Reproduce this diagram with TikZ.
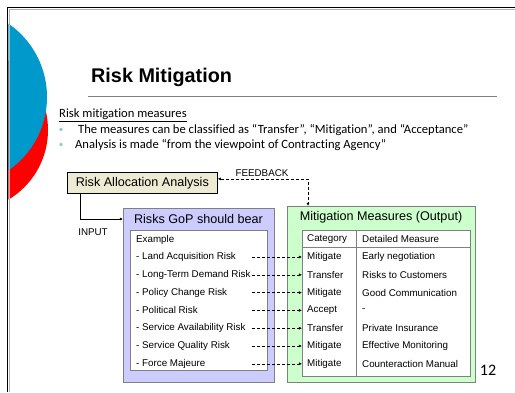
\documentclass[tikz,border=0pt]{standalone}
\usepackage{fontspec}
\setmainfont{Liberation Sans}
\newfontfamily\slidefont[Ligatures=NoCommon]{Carlito}
\usetikzlibrary{arrows.meta}

\definecolor{circblue}{RGB}{0,153,204}
\definecolor{beige}{RGB}{238,235,212}
\definecolor{lavender}{RGB}{204,204,255}
\definecolor{mint}{RGB}{204,255,204}
\definecolor{bullteal}{RGB}{140,200,214}

\newcommand{\mmhead}{\fontsize{12.6}{15}\selectfont}
\newcommand{\mmtext}{\fontsize{9.8}{12}\selectfont}

\tikzset{
  box/.style={draw=gray, line width=0.7pt, inner sep=0pt, anchor=north west},
  txt/.style={inner sep=0pt, anchor=west, font=\mmtext},
  dasharrow/.style={densely dashed, line width=0.5pt, -{Latex[length=3.2pt,width=3pt]}}
}

\begin{document}
\begin{tikzpicture}[x=1pt,y=-1pt]
    \useasboundingbox (0,0) rectangle (515,392);

    % Draw the two circles at the left edge
    \begin{scope}
        \clip (8.3,0) rectangle (515,392);
        \fill[red] (-33,130) circle (81);
        \fill[circblue] (-42,97) circle (89);
    \end{scope}

    % Draw slide frame
    \draw[gray!60, line width=0.6pt] (9.6,392) -- (9.6,9.6) -- (515,9.6);
    \draw[line width=1.6pt] (7.5,392) -- (7.5,7.5) -- (515,7.5);

    % Title and rule
    \node[inner sep=0pt, anchor=west, font=\fontsize{19.8}{24}\selectfont\bfseries] (title) at (91,77) {Risk Mitigation};
    \draw[gray, line width=1pt] (88,96) -- (497,96);

    % Bullet text
    \node[inner sep=0pt, anchor=west, font=\slidefont\fontsize{12.6}{15}\selectfont] (head) at (59,115) {\underline{Risk mitigation measures}};
    \node[inner sep=0pt, text=bullteal, font=\slidefont\fontsize{9}{10}\selectfont] (b1) at (61,130) {•};
    \node[inner sep=0pt, text=bullteal, font=\slidefont\fontsize{9}{10}\selectfont] (b2) at (61,145) {•};
    \node[inner sep=0pt, anchor=west, font=\slidefont\fontsize{12.6}{15}\selectfont] (l1) at (78,130) {The measures can be classified as “Transfer”, “Mitigation”, and “Acceptance”};
    \node[inner sep=0pt, anchor=west, font=\slidefont\fontsize{12.6}{15}\selectfont] (l2) at (75,145) {Analysis is made “from the viewpoint of Contracting Agency”};

    % Risk allocation box
    \node[box, draw=black, fill=beige, minimum width=150, minimum height=21, font=\mmhead] (raa) at (67,172) {Risk Allocation Analysis};

    % Risks box (left)
    \node[box, fill=lavender, minimum width=151, minimum height=174] (risks) at (123,208) {};
    \node[font=\mmhead, inner sep=0pt] (riskstitle) at (198.5,219) {Risks GoP should bear};
    \node[box, fill=white, minimum width=137, minimum height=140] (ex) at (130,230) {};
    \node[txt] (example) at (136,240) {Example};

    % Mitigation box (right)
    \node[box, fill=mint, minimum width=188, minimum height=176] (mm) at (287,206) {};
    \node[font=\mmhead, inner sep=0pt] (mmtitle) at (381,217) {Mitigation Measures (Output)};
    \node[box, fill=white, minimum width=168, minimum height=146] (tbl) at (302,230) {};
    \draw[gray, line width=0.7pt] (tbl.north -| 356,0) -- (tbl.south -| 356,0);
    \draw[gray, line width=0.7pt] (tbl.west |- 0,247) -- (tbl.east |- 0,247);
    \node[txt] (cat) at (307,239) {Category};
    \node[txt] (det) at (362,239) {Detailed Measure};

    % Rows with dashed arrows
    \foreach \i/\risk/\cat/\meas in {1/Land Acquisition Risk/Mitigate/Early negotiation,
        2/Long-Term Demand Risk/Transfer/Risks to Customers,
        3/Policy Change Risk/Mitigate/Good Communication,
        4/Political Risk/Accept/-,
        5/Service Availability Risk/Transfer/Private Insurance,
        6/Service Quality Risk/Mitigate/Effective Monitoring,
        7/Force Majeure/Mitigate/Counteraction Manual} {
        \pgfmathsetmacro{\y}{257+(\i-1)*17.8}
        \node[txt] (r\i) at (136,\y) {- \risk};
        \node[txt] (c\i) at (307,\y) {\cat};
        \node[txt] (m\i) at (362,\y) {\meas};
        \coordinate (s\i) at (252,\y);
        \draw[dasharrow] (s\i) -- (c\i.west -| tbl.west);
    }

    % Feedback and input
    \coordinate (fbend) at (308,206);
    \draw[densely dashed, line width=0.5pt, {Latex[length=3.2pt,width=3pt]}-{Latex[length=3.2pt,width=3pt]}] ([yshift=4pt]raa.east) -| (fbend);
    \node[font=\mmtext, inner sep=0pt] (fb) at (262,173) {FEEDBACK};
    \coordinate (inp) at (80,193);
    \draw[line width=0.5pt, -{Latex[length=3.2pt,width=3pt]}] (inp) |- (riskstitle -| risks.west);
    \node[font=\mmtext, inner sep=0pt] (input) at (93,232) {INPUT};

    % Page number
    \node[font=\slidefont\fontsize{16}{18}\selectfont, inner sep=0pt] (page) at (488,370) {12};
\end{tikzpicture}
\end{document}
